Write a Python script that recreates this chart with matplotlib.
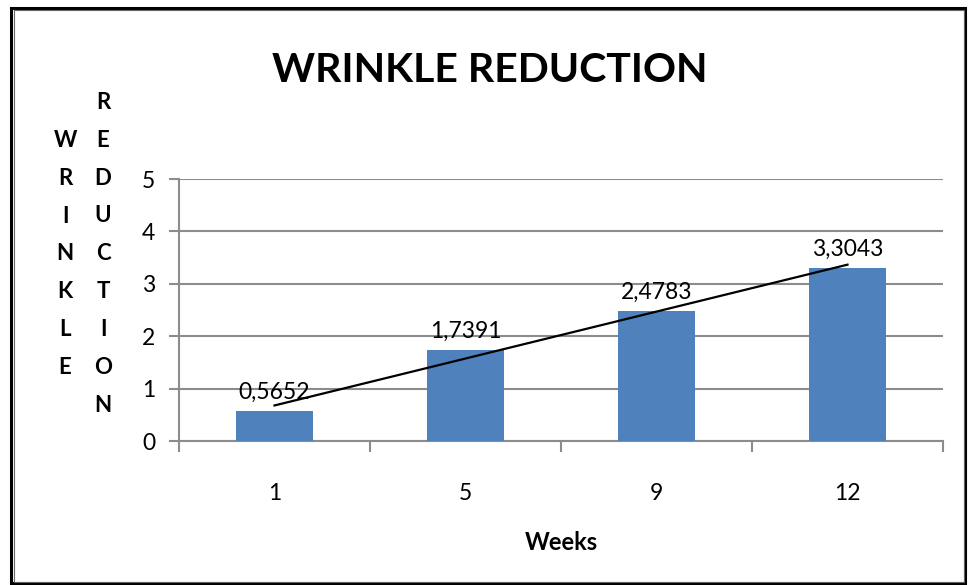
import numpy as np
import matplotlib
matplotlib.use("Agg")
import matplotlib.pyplot as plt
from matplotlib.patches import Rectangle

weeks = ["1", "5", "9", "12"]
reduction = [0.5652, 1.7391, 2.4783, 3.3043]
value_labels = ["0,5652", "1,7391", "2,4783", "3,3043"]
yticks = [0, 1, 2, 3, 4, 5]

plt.rcParams['font.family'] = ['Lato', 'DejaVu Sans']

W, H = 968, 585
fig = plt.figure(figsize=(W / 100, H / 100), dpi=100)
ax = fig.add_axes([179 / W, 1 - 441 / H, (943 - 179) / W, (441 - 179) / H])

x = np.arange(len(weeks))
bar_color = "#4F81BD"
grid_color = "#8C8C8C"
ax.bar(x, reduction, width=0.4, color=bar_color, zorder=3)

# linear trendline
coef = np.polyfit(x + 1, reduction, 1)
tx = np.array([x[0], x[-1]])
ax.plot(tx, np.polyval(coef, tx + 1), color="black", lw=1.6, zorder=4)

for xi, v, lab in zip(x, reduction, value_labels):
    ax.annotate(lab, (xi, v), xytext=(0, 6), textcoords="offset points",
                ha="center", va="bottom", fontsize=16.5, zorder=5)

ax.set_xlim(-0.5, len(weeks) - 0.5)
ax.set_ylim(0, 5)
ax.set_yticks(yticks)
ax.set_yticklabels([str(t) for t in yticks], fontsize=16.5)
ax.set_xticks(x)
ax.set_xticklabels(weeks, fontsize=16.5)
ax.set_xticks(np.arange(len(weeks) + 1) - 0.5, minor=True)
ax.tick_params(axis="x", which="major", length=0, pad=30)
ax.tick_params(axis="x", which="minor", length=8, width=1.5, color=grid_color, direction="out")
ax.tick_params(axis="y", length=7, width=1.5, color=grid_color, direction="out", pad=10)

ax.yaxis.grid(True, color=grid_color, lw=1.5, zorder=0)
ax.set_axisbelow(True)
for s in ["top", "right"]:
    ax.spines[s].set_visible(False)
for s in ["left", "bottom"]:
    ax.spines[s].set_color(grid_color)
    ax.spines[s].set_linewidth(1.5)

ax.set_xlabel("Weeks", fontsize=17, fontweight="bold", labelpad=20)

fig.text(490 / W, 1 - 70 / H, "WRINKLE REDUCTION", ha="center", va="center",
         fontsize=29.5, fontweight="bold")

# stacked y-axis label
fig.text(65 / W, 1 - 130 / H, "\n".join("WRINKLE"), ha="center", va="top",
         fontsize=16, fontweight="bold", linespacing=1.99)
fig.text(103 / W, 1 - 92 / H, "\n".join("REDUCTION"), ha="center", va="top",
         fontsize=16, fontweight="bold", linespacing=1.99)

# double border
fig.patches.append(Rectangle((11 / W, 2 / H), (965 - 11) / W, (577 - 2) / H,
                             transform=fig.transFigure, fill=False,
                             edgecolor="black", lw=2.2))
fig.patches.append(Rectangle((14 / W, 3 / H), (964 - 14) / W, (575 - 3) / H,
                             transform=fig.transFigure, fill=False,
                             edgecolor="#666666", lw=0.8))

fig.savefig("out.png", dpi=100)
